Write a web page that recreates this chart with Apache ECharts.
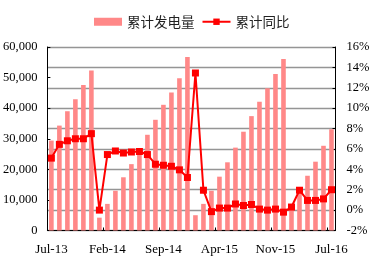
<!DOCTYPE html>
<html>
<head>
<meta charset="utf-8">
<script src="https://cdn.jsdelivr.net/npm/echarts@6/dist/echarts.min.js"></script>
<style>
html,body{margin:0;padding:0;background:#fff;}
#chart{width:373px;height:266px;}
</style>
</head>
<body>
<div id="chart"></div>
<script>
var categories = ['Jul-13','Aug-13','Sep-13','Oct-13','Nov-13','Dec-13',
  'Jan-14','Feb-14','Mar-14','Apr-14','May-14','Jun-14','Jul-14','Aug-14','Sep-14','Oct-14','Nov-14','Dec-14',
  'Jan-15','Feb-15','Mar-15','Apr-15','May-15','Jun-15','Jul-15','Aug-15','Sep-15','Oct-15','Nov-15','Dec-15',
  'Feb-16','Mar-16','Apr-16','May-16','Jun-16','Jul-16'];
var cumulativeGeneration = [29400,34300,39000,42900,47600,52300,
  4200,8700,13000,17400,21700,25900,31300,36200,41100,45100,49800,56700,
  5000,8700,13000,17600,22300,27100,32300,37400,42100,46500,51200,56100,
  8600,13000,17900,22500,27700,33100];
var cumulativeYoY = [5.1,6.45,6.8,7.0,7.0,7.5,
  0.0,5.45,5.8,5.6,5.7,5.75,5.45,4.5,4.4,4.3,3.95,3.2,
  13.45,1.95,-0.15,0.2,0.2,0.6,0.45,0.55,0.1,0.0,0.1,-0.2,
  0.3,1.95,0.95,0.95,1.1,2.0];
var leftTicks = {min:0, max:60000, interval:10000};
var rightTicks = {min:-2, max:16, interval:2};

var serif = '"Liberation Serif","DejaVu Serif",serif';
var cjk = '"Noto Sans CJK SC","Noto Sans",sans-serif';
var chart = echarts.init(document.getElementById('chart'), null, {renderer:'canvas'});
chart.setOption({
  animation:false,
  backgroundColor:'#fff',
  legend:{
    top:10, left:89,
    itemWidth:28, itemHeight:8, itemGap:7,
    textStyle:{fontFamily:cjk, fontSize:13.5, color:'#222'},
    data:[{name:'累计发电量', icon:'rect'}, {name:'累计同比'}]
  },
  grid:{left:45, right:37.5, top:47, bottom:35.5},
  xAxis:{
    type:'category', data:categories, boundaryGap:true,
    axisLine:{lineStyle:{color:'#000', width:1}},
    axisTick:{show:true, inside:true, length:3, lineStyle:{color:'#000'}},
    axisLabel:{interval:function(i){return i%7===0;}, fontFamily:serif, fontSize:13, color:'#000', margin:13},
    splitLine:{show:false}
  },
  yAxis:[{
    type:'value', min:leftTicks.min, max:leftTicks.max, interval:leftTicks.interval,
    axisLine:{show:true, lineStyle:{color:'#000'}},
    axisTick:{show:true, inside:true, length:3, lineStyle:{color:'#000'}},
    axisLabel:{fontFamily:serif, fontSize:12.5, color:'#000', margin:10},
    splitLine:{show:false}
  },{
    type:'value', min:rightTicks.min, max:rightTicks.max, interval:rightTicks.interval,
    axisLine:{show:true, lineStyle:{color:'#000'}},
    axisTick:{show:true, inside:true, length:3, lineStyle:{color:'#000'}},
    axisLabel:{fontFamily:serif, fontSize:12.5, color:'#000', margin:11, formatter:'{value}%'},
    splitLine:{show:true, lineStyle:{color:'#959595', width:1.3}}
  }],
  series:[{
    name:'累计发电量', type:'bar', yAxisIndex:0, data:cumulativeGeneration,
    barWidth:4.6, itemStyle:{color:'#ff8888'}
  },{
    name:'累计同比', type:'line', yAxisIndex:1, data:cumulativeYoY,
    symbol:'rect', symbolSize:7, showAllSymbol:true,
    lineStyle:{color:'#ff0000', width:2}, itemStyle:{color:'#ff0000'}
  }]
});
</script>
</body>
</html>
